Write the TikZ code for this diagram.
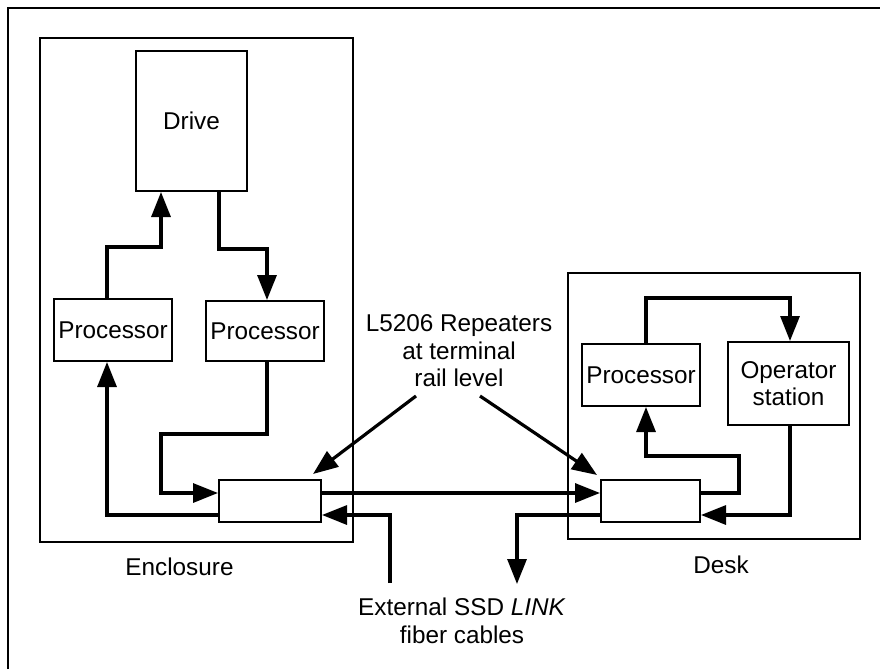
\documentclass[tikz,border=0pt]{standalone}
\usepackage{fontspec}
\setmainfont{Liberation Sans}
\usetikzlibrary{arrows.meta}
\begin{document}
\begin{tikzpicture}[x=1pt, y=-1pt, font=\fontsize{24.3}{27.5}\selectfont,
    wire/.style={line width=3.2pt, -{Triangle[length=25pt, width=19pt]}}]
\useasboundingbox (0,0) rectangle (880,669);
\draw[line width=2pt] (8,669) |- (880,8);
\begin{scope}[every node/.style={draw, line width=2pt, inner sep=0pt, align=center}]
    \node[minimum width=313pt, minimum height=504pt] (encl) at (196.5,290) {};
    \node[minimum width=292pt, minimum height=266pt] (desk) at (714,406) {};
    \node[minimum width=111pt, minimum height=140pt] (drive) at (191.5,121) {Drive};
    \node[minimum width=118pt, minimum height=62pt] (procA) at (113,330) {Processor};
    \node[minimum width=118pt, minimum height=60pt] (procB) at (265,331) {Processor};
    \node[minimum width=102pt, minimum height=42pt] (repA) at (270,501) {};
    \node[minimum width=99pt, minimum height=42pt] (repB) at (650.5,501) {};
    \node[minimum width=118pt, minimum height=62pt] (procC) at (641,375) {Processor};
    \node[minimum width=121pt, minimum height=83pt] (opst) at (788.5,383.5) {Operator\\station};
\end{scope}
\begin{scope}[every node/.style={inner sep=0pt, align=center}]
    \node (encllbl) at (179.5,567) {Enclosure};
    \node (desklbl) at (721,565) {Desk};
    \node (replbl) at (459,351) {L5206 Repeaters\\at terminal\\rail level};
    \node (extlbl) at (462,621) {External SSD \textit{LINK}\\fiber cables};
\end{scope}
\coordinate (extA) at (390,583);
\coordinate (extB) at (517,584);
\coordinate (rA) at (416,396);
\coordinate (rB) at (480,396);
\draw[wire] ([xshift=-6]procA.north) -- ++(0,-51) -| ([xshift=-30.5]drive.south);
\draw[wire] ([xshift=27.5]drive.south) -- ++(0,57) -| ([xshift=2]procB.north);
\draw[wire] ([xshift=2]procB.south) -- ++(0,72) -- ++(-106,0) |- ([yshift=8]repA.west);
\draw[wire] ([yshift=-14]repA.west) -| ([xshift=-6]procA.south);
\draw[wire] ([yshift=8]repA.east) -- ([yshift=8]repB.west);
\draw[wire] (extA) |- ([yshift=-14]repA.east);
\draw[wire] ([yshift=-14]repB.west) -| (extB);
\draw[wire] ([yshift=8]repB.east) -| ++(38,-37) -| ([xshift=5]procC.south);
\draw[wire] ([xshift=5]procC.north) -- ++(0,-45) -| ([xshift=1.5]opst.north);
\draw[wire] ([xshift=1.5]opst.south) |- ([yshift=-14]repB.east);
\draw[wire] (rA) -- ([xshift=-9,yshift=5]repA.north east);
\draw[wire] (rB) -- ([xshift=-3,yshift=4]repB.north west);
\end{tikzpicture}
\end{document}
